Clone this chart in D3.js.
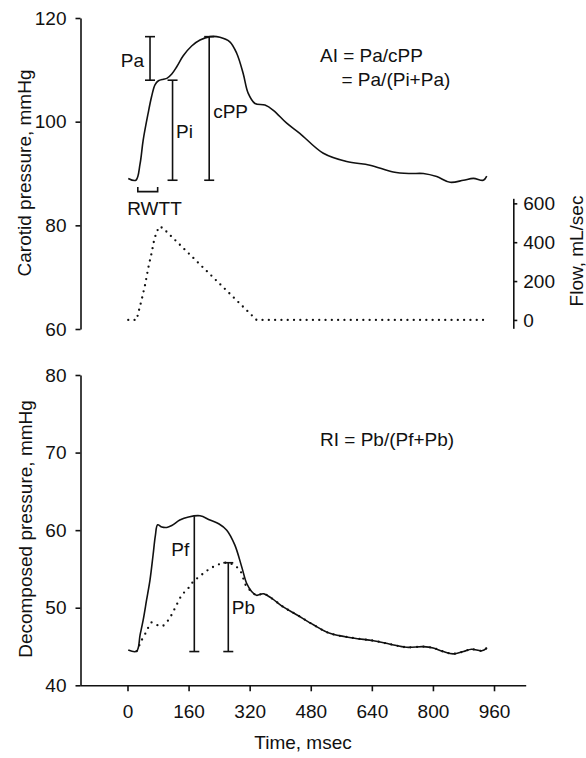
<!DOCTYPE html>
<html>
<head>
<meta charset="utf-8">
<script src="https://cdn.jsdelivr.net/npm/d3@7"></script>
<style>
  html, body { margin: 0; padding: 0; background: #fff; }
  svg { display: block; }
  text { font-family: "Liberation Sans", Arial, Helvetica, sans-serif; fill: #111; }
</style>
</head>
<body>
<svg id="chart" width="586" height="758"></svg>
<script>
// ---------------- DATA ----------------
const timeTicks = [0, 160, 320, 480, 640, 800, 960];
const carotidTicks = [60, 80, 100, 120];
const flowTicks = [0, 200, 400, 600];
const decompTicks = [40, 50, 60, 70, 80];

// Carotid pressure (mmHg) vs time (msec)
const carotidT = [2, 22, 33, 41, 54, 63, 72, 81, 94, 103, 116, 129, 146, 168, 190, 216, 242, 268, 286, 303, 316, 334, 360, 382, 417, 452, 513, 574, 635, 696, 740, 775, 810, 845, 880, 906, 932, 941];
const carotidP = [89.05, 88.7, 91.9, 96.4, 101.6, 104.8, 107.1, 107.9, 108.2, 108.35, 109.2, 110.6, 112.7, 114.6, 115.75, 116.4, 116.3, 115.4, 113.2, 109.3, 105.5, 103.5, 103.2, 102.2, 99.7, 97.7, 93.9, 92.3, 91.6, 90.3, 90.0, 90.0, 89.4, 88.3, 88.7, 89.05, 88.7, 89.5];

// Flow (mL/sec) vs time
const flowT = [2, 24, 28, 37, 46, 56, 63, 69, 75, 83, 92, 338, 935];
const flowQ = [0, 0, 34, 103, 180, 283, 343, 403, 446, 480, 474, 0, 0];

// Decomposed forward pressure Pf (solid)
const pfT = [2, 24, 33, 41, 50, 59, 67, 73, 79, 90, 103, 116, 137, 160, 190, 216, 240, 260, 281, 299, 312, 325, 338, 356, 378, 408, 443, 487, 530, 591, 644, 688, 731, 775, 801, 827, 853, 880, 901, 928, 941];
const pfP = [44.55, 44.4, 46.5, 48.4, 51.0, 53.6, 56.8, 59.3, 60.7, 60.4, 60.35, 60.6, 61.3, 61.7, 61.85, 61.3, 60.8, 60.0, 58.1, 55.3, 53.15, 52.1, 51.6, 51.8, 51.2, 50.1, 49.1, 47.8, 46.7, 46.1, 45.75, 45.3, 44.9, 44.98, 44.8, 44.35, 44.05, 44.35, 44.65, 44.45, 44.8];

// Decomposed backward pressure Pb (dotted)
const pbT = [24, 28, 33, 37, 46, 53, 63, 76, 90, 107, 124, 142, 159, 172, 188, 206, 222, 240, 258, 270, 282, 295, 303, 312, 325, 338, 356, 378, 408, 443, 487, 530, 591, 644, 688, 731, 775, 801, 827, 853, 880, 901, 928, 941];
const pbP = [44.4, 44.8, 45.4, 45.8, 46.6, 47.3, 48.1, 47.8, 47.6, 48.4, 49.9, 51.6, 52.5, 53.35, 54.0, 54.7, 55.2, 55.6, 55.8, 55.7, 55.4, 54.8, 53.8, 52.7, 52.1, 51.6, 51.8, 51.2, 50.1, 49.1, 47.8, 46.7, 46.1, 45.75, 45.3, 44.9, 44.98, 44.8, 44.35, 44.05, 44.35, 44.65, 44.45, 44.8];

// Measurement bars: [label, time, low, high]
const topBars = [["Pa", 59, 108.0, 116.4], ["Pi", 118, 88.7, 108.0], ["cPP", 214, 88.7, 116.4]];
const bottomBars = [["Pf", 175, 44.35, 61.8], ["Pb", 264, 44.35, 55.8]];
const rwtt = [27, 79, 86.5, 87.4]; // t0, t1, bracket level, tick top (mmHg)

// ---------------- SCALES ----------------
const svg = d3.select("#chart");
const FS = 19;
const x = d3.scaleLinear().domain([-124.4, 1043]).range([80, 525.7]);
const yTop = d3.scaleLinear().domain([60, 120]).range([329, 18]);
const yFlow = d3.scaleLinear().domain([-43, 626]).range([328.3, 198.3]);
const yBot = d3.scaleLinear().domain([40, 80]).range([685.3, 375]);

function styleAxis(g) {
  g.selectAll("path.domain").attr("stroke", "#111").attr("stroke-width", 1.6);
  g.selectAll(".tick line").attr("stroke", "#111").attr("stroke-width", 1.6);
  g.selectAll("text").style("font-size", FS + "px").attr("fill", "#111")
    .style("font-family", '"Liberation Sans", Arial, sans-serif');
}

// Top left axis
svg.append("g").attr("transform", "translate(80.5,0)")
  .call(d3.axisLeft(yTop).tickValues(carotidTicks).tickSize(5).tickSizeOuter(0).tickPadding(9))
  .call(styleAxis);
// Flow right axis
svg.append("g").attr("transform", "translate(513.3,0)")
  .call(d3.axisRight(yFlow).tickValues(flowTicks).tickSize(4).tickSizeOuter(0).tickPadding(6))
  .call(styleAxis);
// Bottom left axis
svg.append("g").attr("transform", "translate(80.5,0)")
  .call(d3.axisLeft(yBot).tickValues(decompTicks).tickSize(5).tickSizeOuter(0).tickPadding(9))
  .call(styleAxis);
// Bottom x axis
svg.append("g").attr("transform", "translate(0,685.3)")
  .call(d3.axisBottom(x).tickValues(timeTicks).tickSize(6).tickSizeOuter(0).tickPadding(13))
  .call(styleAxis);

// Axis titles
svg.append("text").attr("transform", "translate(31,173) rotate(-90)")
  .attr("text-anchor", "middle").style("font-size", FS + "px").text("Carotid pressure, mmHg");
svg.append("text").attr("transform", "translate(32,529) rotate(-90)")
  .attr("text-anchor", "middle").style("font-size", FS + "px").text("Decomposed pressure, mmHg");
svg.append("text").attr("transform", "translate(583,251) rotate(-90)")
  .attr("text-anchor", "middle").style("font-size", FS + "px").text("Flow, mL/sec");
svg.append("text").attr("x", 303).attr("y", 749)
  .attr("text-anchor", "middle").style("font-size", FS + "px").text("Time, msec");

// ---------------- LINES ----------------
const zip = (a, b) => a.map((t, i) => [t, b[i]]);
const curve = d3.curveCatmullRom.alpha(0.5);

const lineTop = d3.line().x(d => x(d[0])).y(d => yTop(d[1])).curve(curve);
const lineFlow = d3.line().x(d => x(d[0])).y(d => yFlow(d[1]));
const lineBot = d3.line().x(d => x(d[0])).y(d => yBot(d[1])).curve(curve);

svg.append("path").attr("d", lineTop(zip(carotidT, carotidP)))
  .attr("fill", "none").attr("stroke", "#111").attr("stroke-width", 1.6);

svg.append("path").attr("d", lineFlow(zip(flowT, flowQ)))
  .attr("fill", "none").attr("stroke", "#111").attr("stroke-width", 2.3)
  .attr("stroke-linecap", "round").attr("stroke-dasharray", "0,6.3");

svg.append("path").attr("d", lineBot(zip(pfT, pfP)))
  .attr("fill", "none").attr("stroke", "#111").attr("stroke-width", 1.6);

svg.append("path").attr("d", lineBot(zip(pbT, pbP)))
  .attr("fill", "none").attr("stroke", "#111").attr("stroke-width", 2.3)
  .attr("stroke-linecap", "round").attr("stroke-dasharray", "0,6.5");

// ---------------- ANNOTATIONS ----------------
function bar(y, t, lo, hi, capTop) {
  const g = svg.append("g").attr("stroke", "#111").attr("stroke-width", 1.6);
  const xp = x(t);
  g.append("line").attr("x1", xp).attr("x2", xp).attr("y1", y(lo)).attr("y2", y(hi));
  g.append("line").attr("x1", xp - 5).attr("x2", xp + 5).attr("y1", y(lo)).attr("y2", y(lo));
  if (capTop) g.append("line").attr("x1", xp - 5).attr("x2", xp + 5).attr("y1", y(hi)).attr("y2", y(hi));
}
topBars.forEach(b => bar(yTop, b[1], b[2], b[3], true));
bar(yBot, bottomBars[0][1], bottomBars[0][2], bottomBars[0][3], false);
bar(yBot, bottomBars[1][1], bottomBars[1][2], bottomBars[1][3], true);

// RWTT bracket
const br = svg.append("g").attr("stroke", "#111").attr("stroke-width", 1.6).attr("fill", "none");
br.append("path").attr("d",
  `M${x(rwtt[0])},${yTop(rwtt[3])}V${yTop(rwtt[2])}H${x(rwtt[1])}V${yTop(rwtt[3])}`);

function label(txt, xp, yp, anchor) {
  svg.append("text").attr("x", xp).attr("y", yp).attr("text-anchor", anchor || "start")
    .style("font-size", FS + "px").text(txt);
}
label("Pa", x(59) - 6, 67, "end");
label("Pi", x(118) + 3.5, 138);
label("cPP", x(214) + 4, 118.3);
label("RWTT", 154.5, 215, "middle");
label("AI = Pa/cPP", 320, 61.5);
label("= Pa/(Pi+Pa)", 341.5, 85.5);
label("RI = Pb/(Pf+Pb)", 320, 445.5);
label("Pf", x(175) - 5, 556, "end");
label("Pb", x(264) + 3.5, 614);
</script>
</body>
</html>
